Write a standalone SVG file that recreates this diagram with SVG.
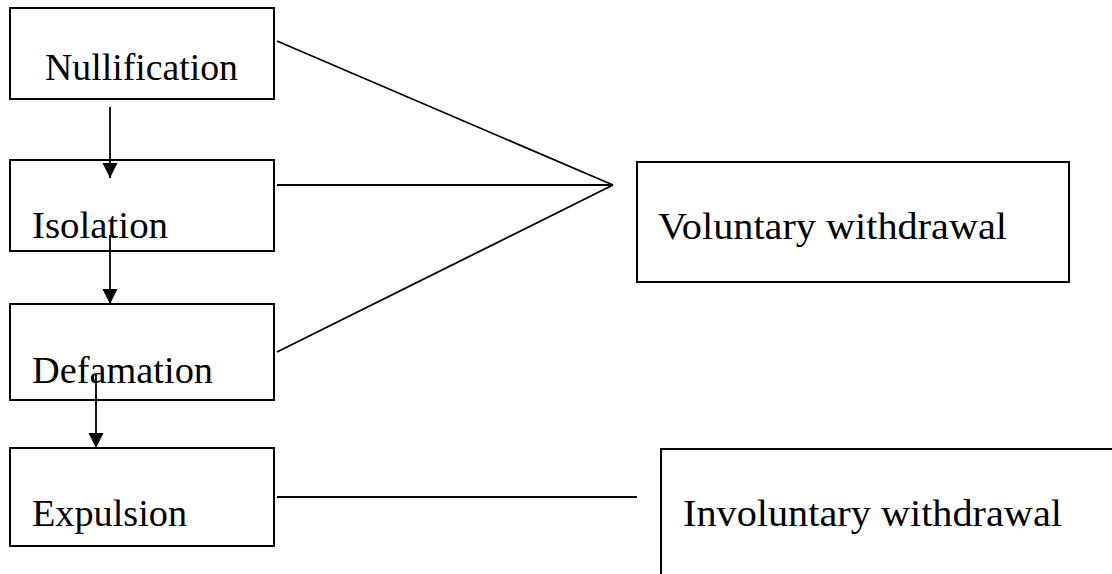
<svg xmlns="http://www.w3.org/2000/svg" width="1112" height="574" viewBox="0 0 1112 574">
  <style>
    .box { fill: #ffffff; stroke: #000000; stroke-width: 2; }
    .lbl { font-family: "Liberation Serif", "Times New Roman", serif; font-size: 37.5px; fill: #000000; }
    .conn { stroke: #000000; stroke-width: 1.8; fill: none; }
  </style>
  <defs>
    <marker id="arrow" markerUnits="userSpaceOnUse" markerWidth="16" markerHeight="16" viewBox="0 0 16 16" refX="15" refY="8" orient="auto">
      <path d="M0,0.5 L15,8 L0,15.5 Z" fill="#000000"/>
    </marker>
  </defs>
  <rect width="1112" height="574" fill="#ffffff"/>

  <g id="node-nullification">
    <rect class="box" x="10" y="8" width="264" height="91"/>
    <text class="lbl" x="45" y="80" textLength="193" lengthAdjust="spacingAndGlyphs">Nullification</text>
  </g>
  <g id="node-isolation">
    <rect class="box" x="10" y="160" width="264" height="91"/>
    <text class="lbl" x="32" y="238" textLength="136" lengthAdjust="spacingAndGlyphs">Isolation</text>
  </g>
  <g id="node-defamation">
    <rect class="box" x="10" y="304" width="264" height="96"/>
    <text class="lbl" x="32" y="383" textLength="181" lengthAdjust="spacingAndGlyphs">Defamation</text>
  </g>
  <g id="node-expulsion">
    <rect class="box" x="10" y="448" width="264" height="98"/>
    <text class="lbl" x="32" y="526" textLength="155" lengthAdjust="spacingAndGlyphs">Expulsion</text>
  </g>
  <g id="node-voluntary">
    <rect class="box" x="637" y="162" width="432" height="120"/>
    <text class="lbl" x="658" y="239" textLength="349" lengthAdjust="spacingAndGlyphs">Voluntary withdrawal</text>
  </g>
  <g id="node-involuntary">
    <rect class="box" x="661" y="449" width="480" height="160"/>
    <text class="lbl" x="683" y="526" textLength="379" lengthAdjust="spacingAndGlyphs">Involuntary withdrawal</text>
  </g>

  <g id="connectors">
    <line class="conn" x1="110" y1="107" x2="110" y2="178" marker-end="url(#arrow)"/>
    <line class="conn" x1="110" y1="235" x2="110" y2="304" marker-end="url(#arrow)"/>
    <line class="conn" x1="96" y1="374" x2="96" y2="448" marker-end="url(#arrow)"/>
    <line class="conn" x1="277" y1="41" x2="613" y2="185"/>
    <line class="conn" x1="277" y1="185" x2="613" y2="185"/>
    <line class="conn" x1="277" y1="352" x2="613" y2="185"/>
    <line class="conn" x1="277" y1="497" x2="637" y2="497"/>
  </g>
</svg>
